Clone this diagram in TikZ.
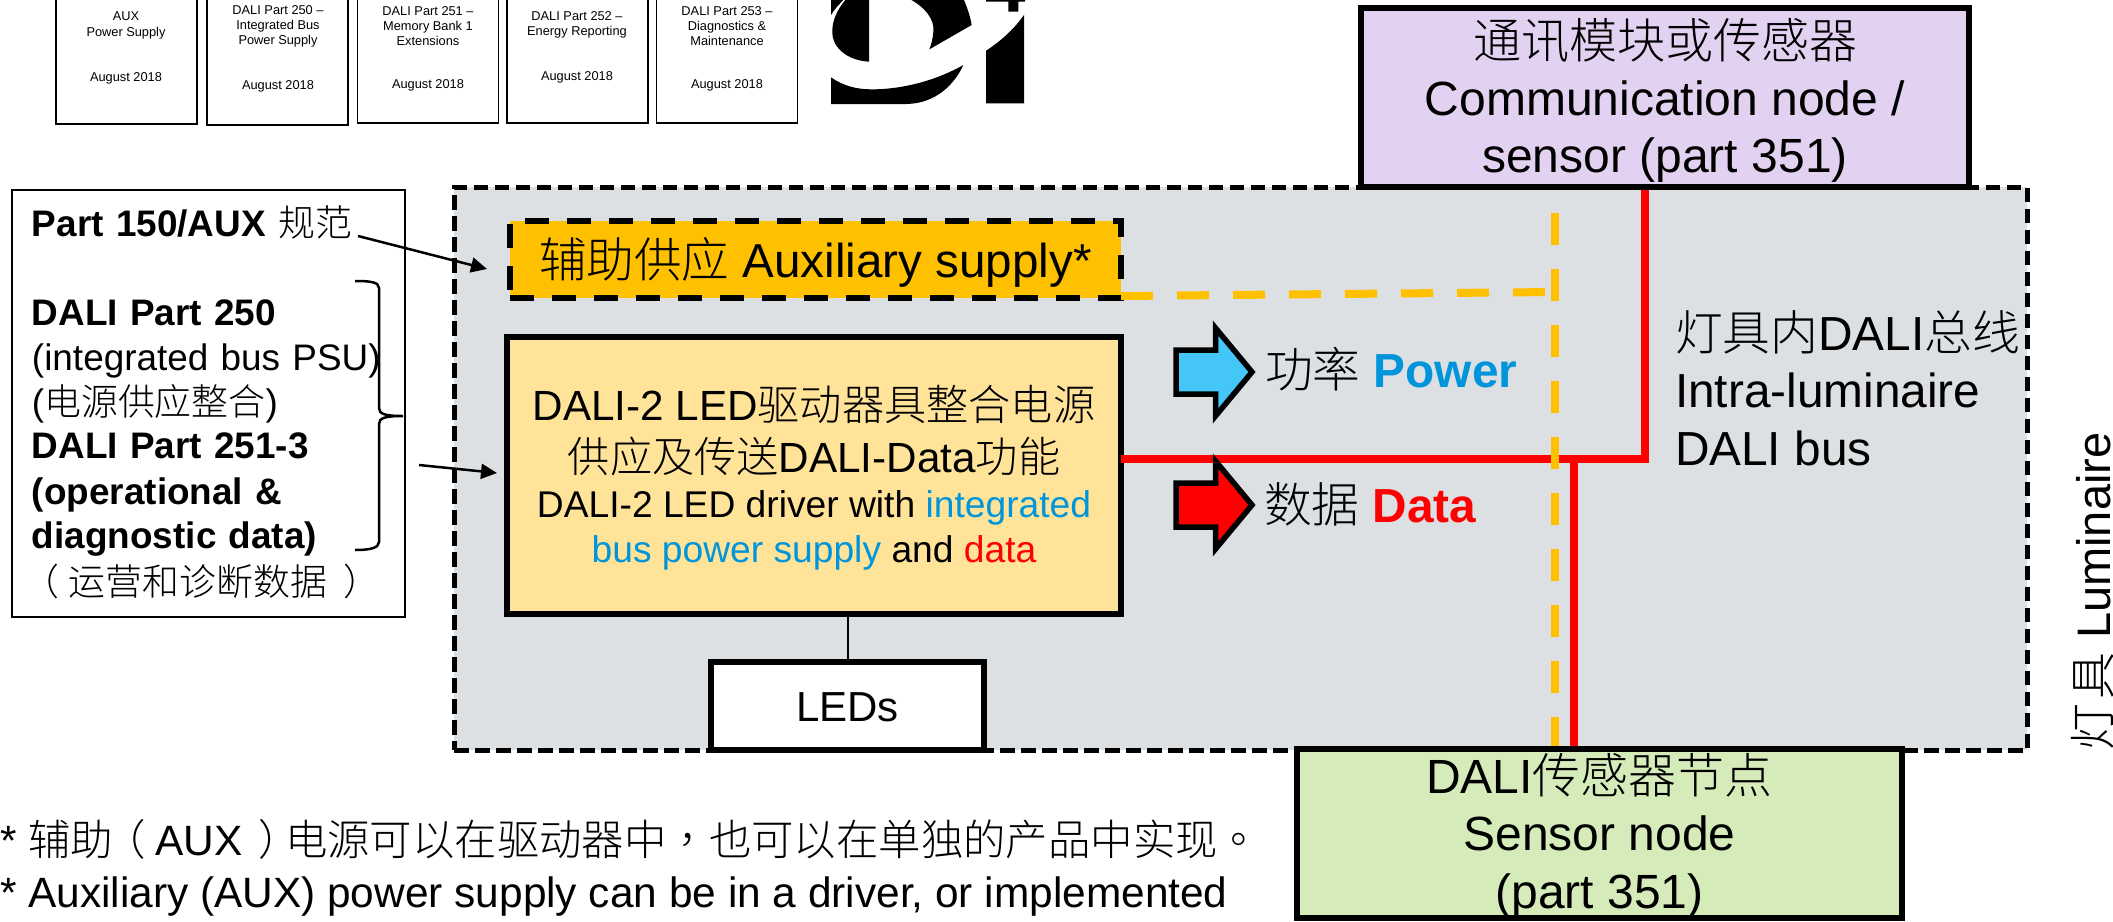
\documentclass[tikz,border=0pt]{standalone}
\usepackage{fontspec}
\usetikzlibrary{arrows.meta}
\setmainfont{Liberation Sans}
\newfontfamily\cjk{Noto Sans CJK SC Light}
\newfontfamily\cjktc{Noto Sans CJK TC Light}
\newcommand\zh[1]{{\cjk #1}}
\newcommand\zt[1]{{\cjktc #1}}
\newcommand\lpar{{\cjk\hspace{-5pt}（\hspace{5pt}}}
\newcommand\rpar{{\cjk\hspace{8pt}）\hspace{-8pt}}}
\newcommand\up[1]{\rule{0pt}{\dimexpr#1pt/2\relax}}
\newcommand\dn[1]{\rule[\dimexpr-#1pt/2\relax]{0pt}{\dimexpr#1pt/2\relax}}
\newcommand\drvbig{\fontsize{21.1}{22.5}\selectfont}
\newcommand\drvsmall{\fontsize{18.6}{22.5}\selectfont}
\definecolor{panelgrey}{HTML}{DDE0E3}
\definecolor{auxorange}{HTML}{FFC000}
\definecolor{driveryellow}{HTML}{FFE399}
\definecolor{commpurple}{HTML}{E2D1F0}
\definecolor{sensorgreen}{HTML}{D5ECBA}
\definecolor{arrowblue}{HTML}{45C6F8}
\definecolor{textblue}{HTML}{0095DA}
\definecolor{datared}{HTML}{FF0000}
\tikzset{
  every node/.style={inner sep=0pt,outer sep=0pt},
  paperbox/.style={draw=black,line width=0.75pt,fill=white,minimum width=70.5pt,minimum height=72pt},
  papertext/.style={align=center,font=\fontsize{6.4}{7.6}\selectfont},
  thickbox/.style={draw=black,line width=2.75pt,align=center},
  panelbox/.style={draw=black,fill=panelgrey,line width=2.5pt,dash pattern=on 7.25pt off 3.25pt,minimum width=786.5pt,minimum height=281.5pt},
  auxbox/.style={draw=black,fill=auxorange,line width=2.75pt,dash pattern=on 12pt off 9pt,minimum width=305.5pt,minimum height=38.5pt,align=center,font=\fontsize{23.8}{28}\selectfont},
  redline/.style={draw=datared,line width=3.75pt,line join=miter},
  yellowline/.style={draw=auxorange,line width=4pt,dash pattern=on 16pt off 12pt},
  pointer/.style={draw=black,line width=1.25pt,-{Triangle[length=8pt,width=7.5pt]}},
  iconarrow/.style={draw=black,line width=2.75pt,line join=miter,miter limit=10},
  label47/.style={font=\fontsize{23.9}{28.75}\selectfont},
}
\begin{document}
\begin{tikzpicture}[x=0.5pt,y=-0.5pt]
\useasboundingbox (0,0) rectangle (2113,921);
\clip (0,0) rectangle (2113,921);

% spec covers
\node[paperbox] (p1) at (126.5,52) {};
\node[paperbox] (p2) at (277.5,53) {};
\node[paperbox] (p3) at (428,51) {};
\node[paperbox] (p4) at (577.5,51) {};
\node[paperbox] (p5) at (727,51) {};
\node[papertext] (p1t) at (126,25.5) {AUX\\Power Supply};
\node[papertext] (p1d) at (126,78) {August 2018};
\node[papertext] (p2t) at (278,26.5) {DALI Part 250 --\\Integrated Bus\\Power Supply};
\node[papertext] (p2d) at (278,86) {August 2018};
\node[papertext] (p3t) at (428,26) {DALI Part 251 --\\Memory Bank 1\\Extensions};
\node[papertext] (p3d) at (428,85) {August 2018};
\node[papertext] (p4t) at (577,25) {DALI Part 252 --\\Energy Reporting};
\node[papertext] (p4d) at (577,77) {August 2018};
\node[papertext] (p5t) at (727,26) {DALI Part 253 --\\Diagnostics \&\\Maintenance};
\node[papertext] (p5d) at (727,85) {August 2018};

% logo
\begin{scope}[shift={(800,0)},x=0.16667pt,y=-0.16667pt]
\fill[black] (93,-5) -- (93,45) .. controls (105,25) and (120,10) .. (135,-5) -- cycle;
\fill[black] (140,-5) .. controls (110,30) and (95,65) .. (97,100) .. controls (100,150) and (150,182) .. (207,185) -- (207,-5) -- cycle;
\fill[black] (325,-5) .. controls (375,20) and (405,60) .. (400,95) .. controls (398,120) and (393,135) .. (388,148) -- (515,75) .. controls (510,45) and (500,20) .. (490,-5) -- cycle;
\fill[black] (93,232) .. controls (130,258) and (170,268) .. (215,268) .. controls (320,268) and (420,235) .. (490,195) .. controls (465,250) and (410,310) .. (320,312) -- (93,312) -- cycle;
\fill[black] (558,152) .. controls (600,125) and (640,90) .. (672,45) -- (672,310) -- (558,310) -- cycle;
\fill[black] (558,-5) -- (675,-5) -- (675,5) -- (655,5) -- (655,35) -- (625,35) -- (625,5) -- (558,5) -- cycle;
\end{scope}

% luminaire panel
\node[panelbox] (panel) at (1240.5,468.5) {};

% boxes
\node[thickbox,fill=commpurple,minimum width=304pt,minimum height=89.5pt,font=\fontsize{24}{28.5}\selectfont] (comm) at (1665,97.5)
  {\up{45}\zh{通讯模块或传感器}\\Communication node /\\sensor (part 351)\dn{10}};
\node[thickbox,fill=sensorgreen,minimum width=302.5pt,minimum height=83.5pt,font=\fontsize{24}{28.5}\selectfont] (sensor) at (1599.5,833.5)
  {\up{44}DALI\zh{传感器节点}\\Sensor node\\[0.5pt](part 351)\dn{9}};
\node[thickbox,fill=driveryellow,minimum width=307pt,minimum height=138.5pt,font=\drvbig] (driver) at (814,475.5)
  {\up{40}DALI-2 LED\zh{驱动器具整合电源}\\[3.5pt]
   \zh{供应及传送}DALI-Data\zh{功能}\\
   \drvsmall DALI-2 LED driver with \textcolor{textblue}{integrated}\\
   \drvsmall\textcolor{textblue}{bus power supply} and \textcolor{datared}{data}\dn{9}};
\node[auxbox] (aux) at (815.5,259.5) {\up{45}\zh{辅助供应} Auxiliary supply*\dn{10}};

% bus lines
\coordinate (rj) at (1645,459);
\coordinate (rs) at (1574,459);
\coordinate (bx) at (1555,292);
\draw[redline,shorten >=1.4pt] (driver.east |- rj) -- (rj) -- (comm.south -| rj);
\draw[redline,shorten >=1.4pt] (rs) -- (sensor.north -| rs);
\draw[yellowline,dash phase=16.4pt,shorten >=1.4pt,shorten <=1.4pt] (comm.south -| bx) -- (sensor.north -| bx);
\draw[yellowline] ([yshift=1pt]aux.south east) -- (bx);

% LEDs
\node[thickbox,fill=white,minimum width=136.5pt,minimum height=44pt,font=\fontsize{21}{25}\selectfont] (leds) at (847.5,706) {\up{40}LEDs\dn{10}};
\draw[black,line width=1pt] (driver.south -| leds.north) -- (leds.north);

% legend arrows
\draw[iconarrow,fill=arrowblue] (1176,350) -- (1215.5,350) -- (1215.5,328) -- (1252,372) -- (1215.5,416) -- (1215.5,394) -- (1176,394) -- cycle;
\draw[iconarrow,fill=datared] (1176,483) -- (1215.5,483) -- (1215.5,461) -- (1252,505) -- (1215.5,549) -- (1215.5,527) -- (1176,527) -- cycle;
\node[label47,anchor=base west] (powerlabel) at (1265,387) {\zh{功率} \textcolor{textblue}{\textbf{Power}}};
\node[label47,anchor=base west] (datalabel) at (1264,522) {\zh{数据} \textcolor{datared}{\textbf{Data}}};

% bus label
\node[label47,anchor=west,align=left] (buslabel) at (1675,392.5)
  {\up{40}\zh{灯具内}DALI\zh{总线}\\Intra-luminaire\\DALI bus\dn{10}};

% luminaire label
\node[font=\fontsize{23.5}{28}\selectfont,anchor=base west,rotate=90] (lumlabel) at (2110,750) {\zh{灯\hspace{2pt}具} Luminaire};

% left spec box
\node[draw=black,line width=1.25pt,fill=white,minimum width=196.5pt,minimum height=213.5pt,text width=176.5pt,align=left,font=\fontsize{18.45}{22.5}\selectfont] (spec) at (208.5,403.5)
  {\up{34}\textbf{Part 150/AUX} \zh{规范}\\[22pt]
   \textbf{DALI Part 250}\\
   (integrated bus PSU)\\
   (\zh{电源供应整合})\\[-1pt]
   \textbf{DALI Part 251-3}\\[0.5pt]
   \textbf{(operational \&}\\[-0.5pt]
   \textbf{diagnostic data)}\\[1pt]
   \lpar\zh{运营和诊断数据}\rpar\dn{10}};

% bracket
\coordinate (bt) at (355,281);
\coordinate (bm) at (403,416);
\coordinate (bb) at (355,550);
\draw[black,line width=1.25pt] (bt) .. controls (370,281) and (379,282) .. (379,288) -- (379,408) .. controls (379,414) and (385,416) .. (bm)
  .. controls (385,416) and (379,418) .. (379,424) -- (379,542) .. controls (379,548) and (370,550) .. (bb);

% pointers
\coordinate (a1s) at (358,236);
\coordinate (a1e) at (487,269);
\coordinate (a2s) at (419,465);
\coordinate (a2e) at (497,473);
\draw[pointer] (a1s) -- (a1e);
\draw[pointer] (a2s) -- (a2e);

% footnote
\node[anchor=west,align=left,font=\fontsize{21.2}{26}\selectfont] (foot) at (0,866)
  {\up{40}* \zh{辅助}\lpar AUX\rpar\zh{电源可以在驱动器中}\zt{，}\zh{也可以在单独的产品中实现}\zt{。}\\* Auxiliary (AUX) power supply can be in a driver, or implemented\dn{10}};
\end{tikzpicture}
\end{document}
